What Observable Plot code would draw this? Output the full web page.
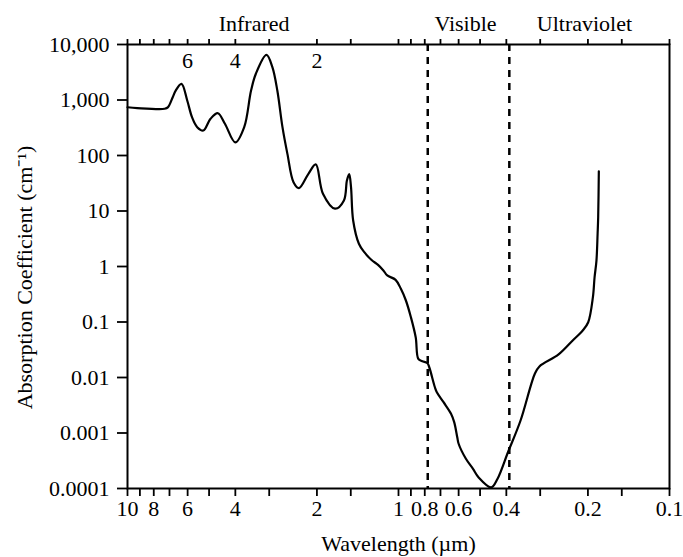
<!DOCTYPE html>
<html>
<head>
<meta charset="utf-8">
<script src="https://cdn.jsdelivr.net/npm/d3@7"></script>
<script src="https://cdn.jsdelivr.net/npm/@observablehq/plot@0.6"></script>
<style>
  html, body { margin: 0; padding: 0; background: #fff; }
</style>
</head>
<body>
<div id="chart"></div>
<script>
// Wavelength (µm) and absorption coefficient (cm^-1) of water
const wavelengths = [10, 9.2, 7.3, 7.1, 6.81, 6.64, 6.32, 6.02, 5.78, 5.53, 5.25, 4.94, 4.64, 4.37, 4.0,
  3.71, 3.50, 3.36, 3.07, 2.92, 2.80, 2.68, 2.57, 2.44, 2.33, 2.15, 2.02, 1.90, 1.715, 1.59, 1.55, 1.52,
  1.497, 1.47, 1.40, 1.337, 1.26, 1.19, 1.137, 1.10, 1.025, 0.98, 0.939, 0.90, 0.864, 0.845, 0.817,
  0.782, 0.770, 0.734, 0.722, 0.682, 0.640, 0.623, 0.607, 0.600, 0.564, 0.531, 0.507, 0.4545, 0.431,
  0.3945, 0.3545, 0.314, 0.302, 0.2566, 0.2276, 0.209, 0.1995, 0.1917, 0.189, 0.186, 0.1842, 0.1833, 0.1823];
const absorption = [740, 715, 695, 735, 1120, 1480, 1950, 980, 490, 324, 282, 458, 578, 373, 172,
  324, 1480, 2970, 6500, 3900, 1480, 324, 107, 33, 25.8, 46.8, 69, 20.4, 11.0, 15.5, 35.5, 46,
  26.9, 6.75, 2.57, 1.81, 1.32, 1.07, 0.85, 0.69, 0.575, 0.396, 0.244, 0.122, 0.053, 0.0217, 0.0197,
  0.0181, 0.0153, 0.00668, 0.00543, 0.00359, 0.00222, 0.00157, 0.00084, 0.00064, 0.000343, 0.000226, 0.00016, 0.000105, 0.00015,
  0.00045, 0.00168, 0.0117, 0.0158, 0.026, 0.0464, 0.0703, 0.099, 0.28, 0.64, 1.28, 3.9, 7.73, 52];

const xTicks = [10, 9, 8, 7, 6, 5, 4, 3, 2, 1.5, 1, 0.9, 0.8, 0.7, 0.6, 0.5, 0.4, 0.3, 0.2, 0.15, 0.1];
const xTickLabels = [10, 8, 6, 4, 2, 1, 0.8, 0.6, 0.4, 0.2, 0.1];
const yTicks = [10000, 1000, 100, 10, 1, 0.1, 0.01, 0.001, 0.0001];
const yTickLabels = ["10,000", "1,000", "100", "10", "1", "0.1", "0.01", "0.001", "0.0001"];
const topTickLabels = [6, 4, 2];
const regionNames = ["Infrared", "Visible", "Ultraviolet"];
const regionCenters = [3.41, 0.566, 0.206];
const boundaries = [0.78, 0.39];
const xTitle = "Wavelength (µm)";
const yTitle = "Absorption Coefficient (cm⁻¹)";

const data = wavelengths.map((w, i) => ({w, a: absorption[i]}));

const chart = Plot.plot({
  width: 683,
  height: 557,
  marginTop: 44,
  marginBottom: 69,
  marginLeft: 127,
  marginRight: 14,
  style: {fontFamily: "'Liberation Serif', 'Times New Roman', serif", fontSize: "22px", color: "black", background: "white"},
  x: {type: "log", domain: [10, 0.1]},
  y: {type: "log", domain: [0.0001, 10000]},
  marks: [
    Plot.ruleX(boundaries, {stroke: "black", strokeDasharray: "7,6", strokeWidth: 2.5}),
    Plot.line(data, {x: "w", y: "a", curve: "catmull-rom", stroke: "black", strokeWidth: 2.2}),
    Plot.frame({stroke: "black", strokeWidth: 2}),
    Plot.axisX({anchor: "bottom", ticks: xTicks, tickSize: 8, strokeWidth: 1.8, tickFormat: () => "", label: null}),
    Plot.axisX({anchor: "top", ticks: xTicks, tickSize: 6, strokeWidth: 1.8, tickFormat: () => "", label: null}),
    Plot.axisY({anchor: "left", ticks: yTicks, tickSize: 10, tickPadding: 8, strokeWidth: 1.8, fontSize: 22,
      tickFormat: d => yTickLabels[yTicks.indexOf(d)], label: null}),
    Plot.text(xTickLabels, {x: d => d, text: d => String(d), frameAnchor: "bottom", lineAnchor: "middle", textAnchor: "middle", dy: 20, fontSize: 22}),
    Plot.text(topTickLabels, {x: d => d, text: d => String(d), frameAnchor: "top", lineAnchor: "middle", textAnchor: "middle", dy: 16, fontSize: 22}),
    Plot.text(regionNames, {x: (d, i) => regionCenters[i], text: d => d, frameAnchor: "top", lineAnchor: "middle", textAnchor: "middle", dy: -21, fontSize: 22}),
    Plot.text([xTitle], {text: d => d, frameAnchor: "bottom", lineAnchor: "middle", textAnchor: "middle", dy: 55, fontSize: 22}),
    Plot.text([yTitle], {text: d => d, frameAnchor: "left", lineAnchor: "middle", textAnchor: "middle", rotate: -90, dx: -103, dy: 11, fontSize: 22})
  ]
});
document.getElementById("chart").appendChild(chart);
</script>
</body>
</html>
